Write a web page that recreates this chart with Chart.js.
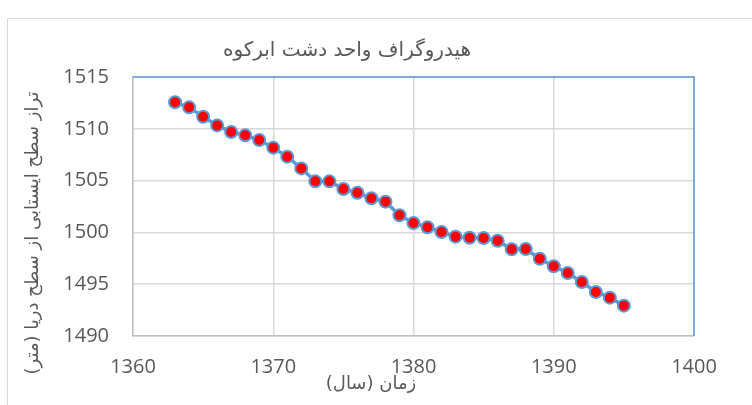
<!DOCTYPE html>
<html>
<head>
<meta charset="utf-8">
<script src="https://cdn.jsdelivr.net/npm/chart.js@4.4.0/dist/chart.umd.min.js"></script>
<style>
  html, body { margin: 0; padding: 0; background: #fff; overflow: hidden; }
  #wrap { position: relative; width: 752px; height: 405px; }
  #frame { position: absolute; left: 7px; top: 18px; width: 800px; height: 500px; border: 1px solid #d9d9d9; }
  canvas { position: absolute; left: 0; top: 0; }
</style>
</head>
<body>
<div id="wrap">
  <div id="frame"></div>
  <canvas id="chart" width="752" height="405"></canvas>
</div>
<script>
// سال‌ها و تراز آب
const years = [1363, 1364, 1365, 1366, 1367, 1368, 1369, 1370, 1371, 1372, 1373,
  1374, 1375, 1376, 1377, 1378, 1379, 1380, 1381, 1382, 1383, 1384, 1385, 1386,
  1387, 1388, 1389, 1390, 1391, 1392, 1393, 1394, 1395];
const levels = [1512.56, 1512.07, 1511.17, 1510.33, 1509.69, 1509.37, 1508.92,
  1508.18, 1507.31, 1506.18, 1504.93, 1504.93, 1504.19, 1503.83, 1503.29, 1502.97,
  1501.65, 1500.91, 1500.5, 1500.04, 1499.59, 1499.49, 1499.46, 1499.2, 1498.37,
  1498.4, 1497.46, 1496.73, 1496.08, 1495.21, 1494.25, 1493.7, 1492.93];
const xTicks = [1360, 1370, 1380, 1390, 1400];
const yTicks = [1490, 1495, 1500, 1505, 1510, 1515];

const chartTitle = "هیدروگراف واحد دشت ابرکوه";
const xTitle = "زمان (سال)";
const yTitle = "تراز سطح ایستابی از سطح دریا (متر)";

const textColor = "#595959";
const persianFont = '"DejaVu Sans", sans-serif';

// خطوط بالا و راست کادر نمودار + عنوان محورها
const frameAndTitles = {
  id: "frameAndTitles",
  beforeDatasetsDraw(chart) {
    const { ctx, chartArea: a } = chart;
    ctx.save();
    ctx.strokeStyle = "#5B9BD5";
    ctx.lineWidth = 1.5;
    ctx.beginPath();
    ctx.moveTo(a.left, a.top);
    ctx.lineTo(a.right, a.top);
    ctx.lineTo(a.right, a.bottom);
    ctx.stroke();
    ctx.restore();
  },
  afterDraw(chart) {
    const { ctx } = chart;
    ctx.save();
    ctx.fillStyle = textColor;
    ctx.direction = "rtl";
    ctx.textAlign = "center";
    ctx.textBaseline = "middle";
    ctx.font = "18px " + persianFont;
    ctx.fillText(xTitle, 371, 384);
    ctx.translate(33, 233);
    ctx.rotate(-Math.PI / 2);
    ctx.fillText(yTitle, 0, 0);
    ctx.restore();
  }
};

new Chart(document.getElementById("chart"), {
  type: "scatter",
  data: {
    datasets: [{
      data: years.map((y, i) => ({ x: y, y: levels[i] })),
      showLine: true,
      borderColor: "#5B9BD5",
      borderWidth: 3.5,
      pointRadius: 6,
      pointBorderWidth: 2,
      pointBackgroundColor: "#FF0000",
      pointBorderColor: "#5B9BD5",
      pointHoverRadius: 6
    }]
  },
  options: {
    responsive: false,
    animation: false,
    events: [],
    layout: { padding: { left: 0, right: 58, top: 0, bottom: 0 } },
    plugins: {
      legend: { display: false },
      tooltip: { enabled: false },
      title: {
        display: true,
        text: chartTitle,
        color: textColor,
        textDirection: "rtl",
        font: { family: persianFont, size: 20, weight: "normal", lineHeight: 1.2 },
        padding: { top: 39, bottom: 14 }
      }
    },
    scales: {
      x: {
        type: "linear",
        min: 1360,
        max: 1400,
        afterBuildTicks(scale) { scale.ticks = xTicks.map(v => ({ value: v })); },
        afterFit(scale) { scale.height = 69; },
        grid: { color: "#d9d9d9", lineWidth: 1.5, drawTicks: false },
        border: { color: "#bfbfbf", width: 1.5 },
        ticks: { color: textColor, padding: 19, maxRotation: 0,
          callback: v => String(v),
          font: { family: "Open Sans", size: 20 } }
      },
      y: {
        type: "linear",
        min: 1490,
        max: 1515,
        afterBuildTicks(scale) { scale.ticks = yTicks.map(v => ({ value: v })); },
        afterFit(scale) { scale.width = 133; },
        grid: { color: "#d9d9d9", lineWidth: 1.5, drawTicks: false },
        border: { color: "#bfbfbf", width: 1.5 },
        ticks: { color: textColor, padding: 24,
          callback: v => String(v),
          font: { family: "Open Sans", size: 20 } }
      }
    }
  },
  plugins: [frameAndTitles]
});
</script>
</body>
</html>
